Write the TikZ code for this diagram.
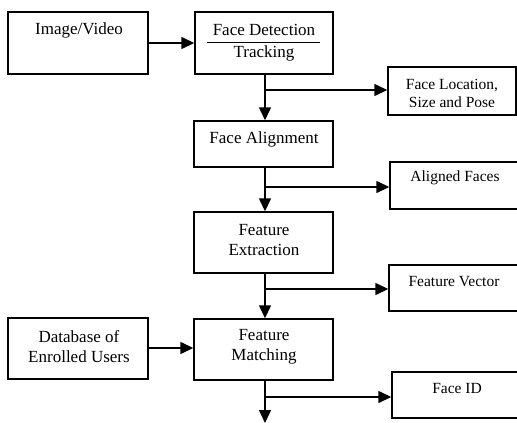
\documentclass[tikz,border=0pt]{standalone}
\usepackage{fontspec}
\setmainfont{Liberation Serif}
\usetikzlibrary{arrows.meta}
\begin{document}
\begin{tikzpicture}[x=1pt,y=-1pt,
  box/.style={draw, line width=1.4pt, rectangle, inner sep=0pt},
  big/.style={font=\fontsize{17}{20}\selectfont, align=center, inner sep=0pt},
  small/.style={font=\fontsize{15.5}{17.5}\selectfont, align=center, inner sep=0pt},
  flow/.style={line width=1.4pt, -{Triangle[length=13pt,width=12pt]}},
  plain/.style={line width=1.4pt}]
\useasboundingbox (0,0) rectangle (517,423);
% boxes
\node[box, minimum width=140pt, minimum height=62pt] (IV) at (78,43) {};
\node[box, minimum width=138pt, minimum height=62pt] (FD) at (264,43) {};
\node[box, minimum width=128pt, minimum height=48pt] (FL) at (452,91) {};
\node[box, minimum width=139pt, minimum height=46pt] (FA) at (263.5,144) {};
\node[box, minimum width=130pt, minimum height=47pt] (AF) at (455,185.5) {};
\node[box, minimum width=139pt, minimum height=61pt] (FE) at (263.5,242.5) {};
\node[box, minimum width=131pt, minimum height=46pt] (FV) at (454.5,288) {};
\node[box, minimum width=140pt, minimum height=61pt] (DB) at (78,348.5) {};
\node[box, minimum width=139pt, minimum height=61pt] (FM) at (263.5,349.5) {};
\node[box, minimum width=128pt, minimum height=46pt] (FID) at (456,395) {};
% texts
\node[big] (tIV) at (79,30) {Image/Video};
\node[big] (tFD1) at (264,30) {Face Detection};
\node[big] (tFD2) at (264,53) {Tracking};
\draw[line width=1pt] (207,42) -- (320,42);
\node[small] (tFL) at (452,93.5) {Face Location,\\Size and Pose};
\node[big] (tFA) at (264,139) {Face Alignment};
\node[small] (tAF) at (455,178) {Aligned Faces};
\node[big] (tFE) at (264,240) {Feature\\Extraction};
\node[small] (tFV) at (454,282) {Feature Vector};
\node[big] (tDB) at (79,347) {Database of\\Enrolled Users};
\node[big] (tFM) at (264,347) {Feature\\Matching};
\node[small] (tFID) at (457,388) {Face ID};
% connectors
\coordinate (b1) at (265,90);
\coordinate (b2) at (265,187);
\coordinate (b3) at (265,289);
\coordinate (b4) at (265,397);
\coordinate (end) at (265,423);
\draw[flow] (IV.east) -- (FD.west);
\draw[flow] (DB.east |- 0,348) -- (FM.west |- 0,348);
\draw[flow] (FD.south -| b1) -- (FA.north -| b1);
\draw[flow] (FA.south -| b2) -- (FE.north -| b2);
\draw[flow] (FE.south -| b3) -- (FM.north -| b3);
\draw[flow] (FM.south -| b4) -- (end);
\draw[flow] (b1) -- (b1 -| FL.west);
\draw[flow] (b2) -- (b2 -| AF.west);
\draw[flow] (b3) -- (b3 -| FV.west);
\draw[flow] (b4) -- (b4 -| FID.west);
\end{tikzpicture}
\end{document}
